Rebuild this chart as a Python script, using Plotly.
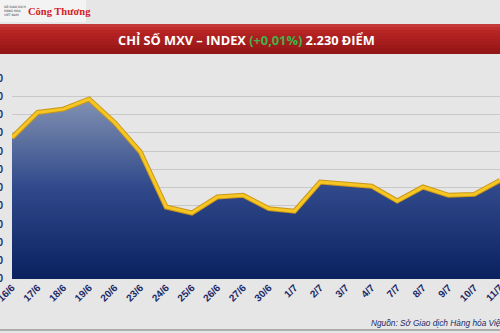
import plotly.graph_objects as go

dates = ["16/6", "17/6", "18/6", "19/6", "20/6", "23/6", "24/6", "25/6", "26/6", "27/6",
         "30/6", "1/7", "2/7", "3/7", "4/7", "7/7", "8/7", "9/7", "10/7", "11/7"]
mxv_index = [2257.4, 2271.2, 2273.0, 2278.5, 2265.6, 2249.5, 2219.4, 2216.1, 2224.9, 2225.8,
             2218.5, 2217.1, 2233.1, 2232.0, 2230.8, 2222.7, 2230.3, 2225.8, 2226.3, 2234.0]
y_ticks = [2180, 2190, 2200, 2210, 2220, 2230, 2240, 2250, 2260, 2270, 2280, 2290]

W, H = 500, 333
ML, MR, MT, MB = 12, 0, 78, 54
PW, PH = W - ML - MR, H - MT - MB


def px(x):
    return (x - ML) / PW


def py(y):
    return (H - MB - y) / PH


fig = go.Figure()
# darker edge under the gold line, with gradient area fill
fig.add_trace(go.Scatter(
    x=dates, y=mxv_index, mode="lines",
    line=dict(color="#c9961a", width=5), hoverinfo="skip", showlegend=False,
    fill="tozeroy",
    fillgradient=dict(type="vertical",
                      colorscale=[[0, "#0a2160"], [0.5, "#30498a"], [1, "#8594b4"]],
                      start=2180, stop=2280),
))
fig.add_trace(go.Scatter(
    x=dates, y=mxv_index, mode="lines",
    line=dict(color="#f6c623", width=3), showlegend=False,
))

shapes = []
# logo panel
shapes.append(dict(type="rect", xref="paper", yref="paper", layer="below",
                   x0=px(0), x1=px(86), y0=py(22), y1=py(0),
                   fillcolor="#f3f3f3", line=dict(width=0)))
# red title band (vertical gradient by strips)
band_top, band_bot = 24, 54
cols = ["#c43a38", "#bf2e2c", "#b82624", "#b32222", "#ae2020", "#a91e1e", "#a41c1c", "#9e1a1a",
        "#981818", "#921616"]
n = len(cols)
step = (band_bot - band_top) / n
for i, c in enumerate(cols):
    shapes.append(dict(type="rect", xref="paper", yref="paper", layer="below",
                       x0=px(0), x1=px(500), y0=py(band_top + (i + 1) * step), y1=py(band_top + i * step),
                       fillcolor=c, line=dict(width=0)))
# bottom rule
shapes.append(dict(type="line", xref="paper", yref="paper",
                   x0=px(0), x1=px(500), y0=py(330), y1=py(330),
                   line=dict(color="#9a9a9a", width=1.5)))

annotations = [
    dict(xref="paper", yref="paper", x=px(246), y=py(40), xanchor="center", yanchor="middle",
         showarrow=False,
         text="<b>CHỈ SỐ MXV – INDEX <span style='color:#3fb34a'>(+0,01%)</span> 2.230 ĐIỂM</b>",
         font=dict(family="Open Sans", size=12.8, color="white")),
    dict(xref="paper", yref="paper", x=px(26), y=py(12), xanchor="left", yanchor="middle",
         showarrow=False, text="<b>Công Thương</b>",
         font=dict(family="Liberation Serif", size=10.5, color="#d1202b")),
    dict(xref="paper", yref="paper", x=px(2), y=py(11), xanchor="left", yanchor="middle",
         showarrow=False, align="left",
         text="SỞ GIAO DỊCH<br>HÀNG HÓA<br>VIỆT NAM",
         font=dict(family="DejaVu Sans", size=3, color="#333333")),
    dict(xref="paper", yref="paper", x=px(369), y=py(323), xanchor="left", yanchor="middle",
         showarrow=False, text="<i>Nguồn: Sở Giao dịch Hàng hóa Việt Nam</i>",
         font=dict(family="Liberation Sans", size=8.3, color="#1c2a66")),
]

fig.update_layout(
    width=W, height=H,
    margin=dict(l=ML, r=MR, t=MT, b=MB, pad=0, autoexpand=False),
    paper_bgcolor="#e6e6e6", plot_bgcolor="rgba(0,0,0,0)",
    separators=",.",
    shapes=shapes, annotations=annotations,
    xaxis=dict(type="category", range=[0, len(dates) - 1], showgrid=False, zeroline=False,
               showline=False, ticks="", tickangle=-45, automargin=False,
               tickfont=dict(family="Liberation Sans", size=10, color="#1c2a66", weight="bold")),
    yaxis=dict(range=[2179.95, 2290.05], tickvals=y_ticks, tickformat=",d", automargin=False,
               showgrid=True, gridcolor="#c8c8c8", gridwidth=1, zeroline=False, showline=False,
               ticklabelstandoff=8,
               tickfont=dict(family="Liberation Sans", size=10, color="#1c2a66", weight="bold")),
)

fig.write_html(
    "out.html",
    config={"displayModeBar": False},
    post_script="document.body.style.margin='0';document.body.style.overflow='hidden';",
)
